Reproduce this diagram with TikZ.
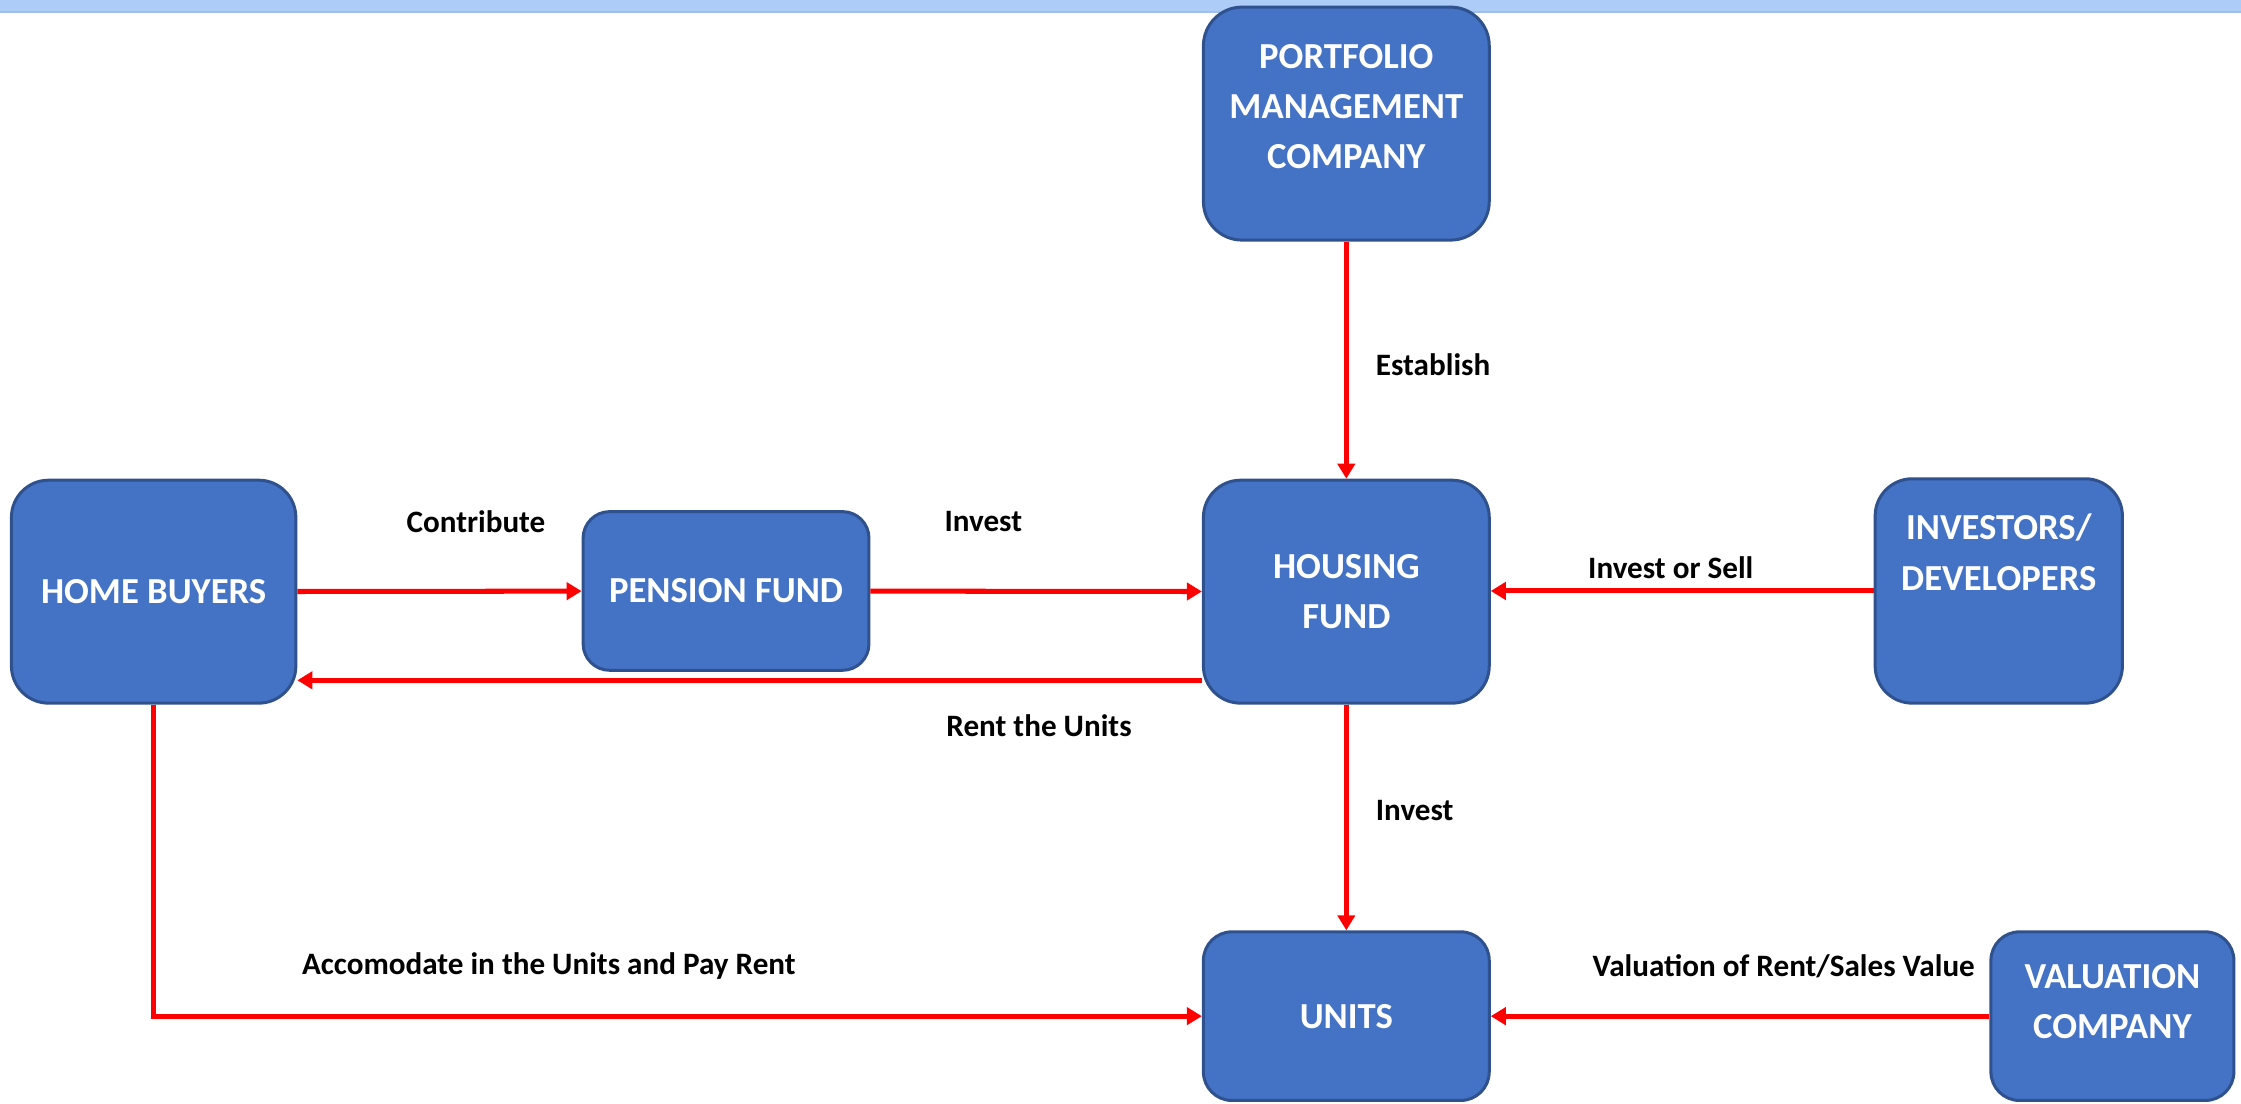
\documentclass[tikz,border=0pt]{standalone}
\usepackage{fontspec}
\setmainfont{Carlito}
\usepackage{tikz}
\usetikzlibrary{arrows.meta}
\tikzstyle{canvas} = [y = -1cm]
\definecolor{boxFill}{RGB}{68,114,196}
\definecolor{boxBorder}{RGB}{47,82,143}
\definecolor{barColor}{RGB}{173,204,248}
\definecolor{barLine}{RGB}{160,190,235}
\tikzstyle{entityStyle} = [draw=boxBorder, fill=boxFill, line width=0.6pt, inner sep=0pt]
\tikzstyle{entityText} = [text=white, font=\fontsize{7.3}{10}\selectfont\bfseries, align=center, inner sep=0pt]
\tikzstyle{flowStyle} = [color=red, line width=1pt, -{Triangle[length=0.105cm, width=0.12cm]}]
\tikzstyle{flowText} = [font=\fontsize{6.2}{7.5}\selectfont\bfseries, inner sep=0pt]
\newcommand{\entityBox}[8]{\node [entityStyle, rounded corners=#8cm, minimum width=#4cm, minimum height=#5cm] (#1) at (#2,#3) {};
  \node [entityText] (#1Text) at ([yshift=#7cm]#1.center) {#6};}

\begin{document}
\begin{tikzpicture}[canvas]
  \useasboundingbox (0,0) rectangle (15.68,7.72);
  \fill [barColor] (0,0) rectangle (15.68,0.077);
  \fill [barLine] (0,0.077) rectangle (15.68,0.09);

  % boxes
  \entityBox{portfolio}{9.42}{0.865}{2}{1.63}{PORTFOLIO\\MANAGEMENT\\COMPANY}{0.12}{0.27}
  \entityBox{home}{1.075}{4.14}{1.99}{1.56}{HOME BUYERS}{0}{0.26}
  \entityBox{pension}{5.08}{4.135}{2}{1.11}{PENSION FUND}{0}{0.185}
  \entityBox{housing}{9.42}{4.14}{2}{1.56}{HOUSING\\FUND}{0}{0.26}
  \entityBox{investors}{13.985}{4.135}{1.73}{1.57}{INVESTORS/\\DEVELOPERS}{0.27}{0.26}
  \entityBox{units}{9.42}{7.11}{2}{1.18}{UNITS}{0}{0.2}
  \entityBox{valuation}{14.78}{7.11}{1.7}{1.18}{VALUATION\\COMPANY}{0.1}{0.2}

  % flows
  \draw [flowStyle] (home) -- (pension);
  \draw [flowStyle] (pension) -- (housing);
  \draw [flowStyle] ([yshift=-0.62cm]housing.west) -- ([yshift=-0.62cm]home.east);
  \draw [flowStyle] (portfolio) -- (housing);
  \draw [flowStyle] (investors) -- (investors -| housing.east);
  \draw [flowStyle] (housing) -- (units);
  \draw [flowStyle] (home.south) |- (units.west);
  \draw [flowStyle] (valuation) -- (units);

  \node [flowText, anchor=west] (establish) at (9.62,2.55) {Establish};
  \node [flowText] (contribute) at (3.33,3.65) {Contribute};
  \node [flowText] (investPension) at (6.88,3.65) {Invest};
  \node [flowText] (rentUnits) at (7.27,5.08) {Rent the Units};
  \node [flowText] (investSell) at (11.69,3.97) {Invest or Sell};
  \node [flowText, anchor=west] (investUnits) at (9.62,5.67) {Invest};
  \node [flowText] (accomodate) at (3.84,6.76) {Accomodate in the Units and Pay Rent};
  \node [flowText] (valuationValue) at (12.48,6.76) {Valuation of Rent/Sales Value};
\end{tikzpicture}
\end{document}
